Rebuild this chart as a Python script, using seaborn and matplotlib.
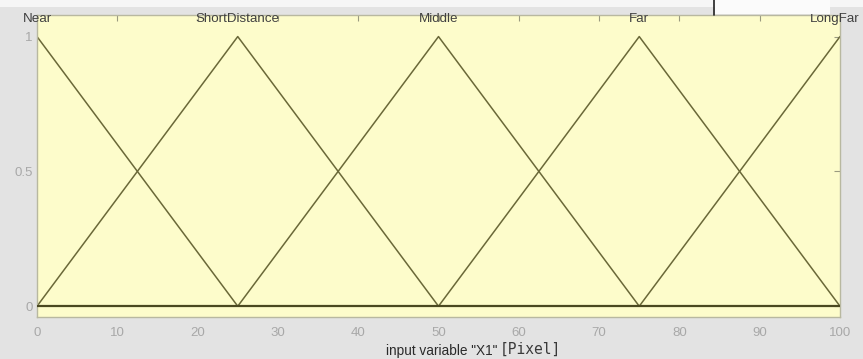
import matplotlib
matplotlib.use("Agg")
import matplotlib.pyplot as plt
import matplotlib.transforms as mtransforms
import seaborn as sns
import pandas as pd
from matplotlib.patches import Rectangle

# Membership functions of input variable "X1" (triangular, x-range 0..100)
mf_names = ["Near", "ShortDistance", "Middle", "Far", "LongFar"]
mf_left = [-25, 0, 25, 50, 75]
mf_peak = [0, 25, 50, 75, 100]
mf_right = [25, 50, 75, 100, 125]
mf_height = [1, 1, 1, 1, 1]

x_ticks = [0, 10, 20, 30, 40, 50, 60, 70, 80, 90, 100]
y_ticks = [0, 0.5, 1]
y_ticklabels = ["0", "0.5", "1"]

rows = []
for name, a, b, c, h in zip(mf_names, mf_left, mf_peak, mf_right, mf_height):
    for x, y in ((a, 0), (b, h), (c, 0)):
        rows.append({"mf": name, "x": x, "mu": y})
df = pd.DataFrame(rows)

sns.set_style("white")
plt.rcParams["font.family"] = ["Liberation Sans", "DejaVu Sans"]

fig = plt.figure(figsize=(8.63, 3.59), dpi=100, facecolor="#e3e3e3")
ax = fig.add_axes([37 / 863, 1 - 317 / 359, (840 - 37) / 863, (317 - 15) / 359])
ax.set_facecolor("#fdfccb")

line_color = "#6a6838"
sns.lineplot(data=df, x="x", y="mu", units="mf", estimator=None, sort=False,
             color=line_color, linewidth=1.1, ax=ax, legend=False)
ax.axhline(0, color="#4a4820", linewidth=1.6, zorder=3)

for i, (name, b, h) in enumerate(zip(mf_names, mf_peak, mf_height)):
    # the last name sits at the right border; nudge it left to stay in frame
    dx = -4 / 72 if i == len(mf_names) - 1 else 0
    tr = ax.transData + mtransforms.ScaledTranslation(dx, 0, fig.dpi_scale_trans)
    ax.text(b, h + 0.066, name, ha="center", va="center", fontsize=9.6,
            color="#404040", clip_on=False, transform=tr)

ax.set_xlim(0, 100)
ax.set_ylim(-0.04, 1.08)
ax.set_xticks(x_ticks)
ax.set_xticklabels([str(t) for t in x_ticks])
ax.set_yticks(y_ticks)
ax.set_yticklabels(y_ticklabels)
ax.tick_params(axis="both", direction="in", length=4, width=0.8,
               color="#9a9a80", labelcolor="#a8a8a8", labelsize=9.5,
               top=True, right=True)
ax.tick_params(axis="x", pad=7)
ax.tick_params(axis="y", pad=3)
ax.set_xlabel("")
ax.set_ylabel("")
for sp in ax.spines.values():
    sp.set_color("#b8b8a0")
    sp.set_linewidth(1.0)

fig.text(497 / 863, 1 - 351 / 359, 'input variable "X1"', ha="right",
         va="center", fontsize=9.8, color="#2a2a2a")
fig.text(500 / 863, 1 - 349 / 359, "[Pixel]", ha="left", va="center",
         fontsize=10.5, color="#3a3a3a", family="DejaVu Sans Mono")

# window chrome along the top edge
fig.patches.append(Rectangle((0, 1 - 7 / 359), 1, 7 / 359,
                             transform=fig.transFigure, facecolor="#f6f6f6",
                             edgecolor="none", zorder=0))
fig.patches.append(Rectangle((715 / 863, 1 - 14 / 359), 115 / 863, 14 / 359,
                             transform=fig.transFigure, facecolor="#fbfbfb",
                             edgecolor="none", zorder=0))
fig.add_artist(plt.Line2D([714 / 863, 714 / 863], [1 - 15 / 359, 1],
                          transform=fig.transFigure, color="#222222",
                          linewidth=1.2))

fig.savefig("out.png", dpi=100, facecolor=fig.get_facecolor())
